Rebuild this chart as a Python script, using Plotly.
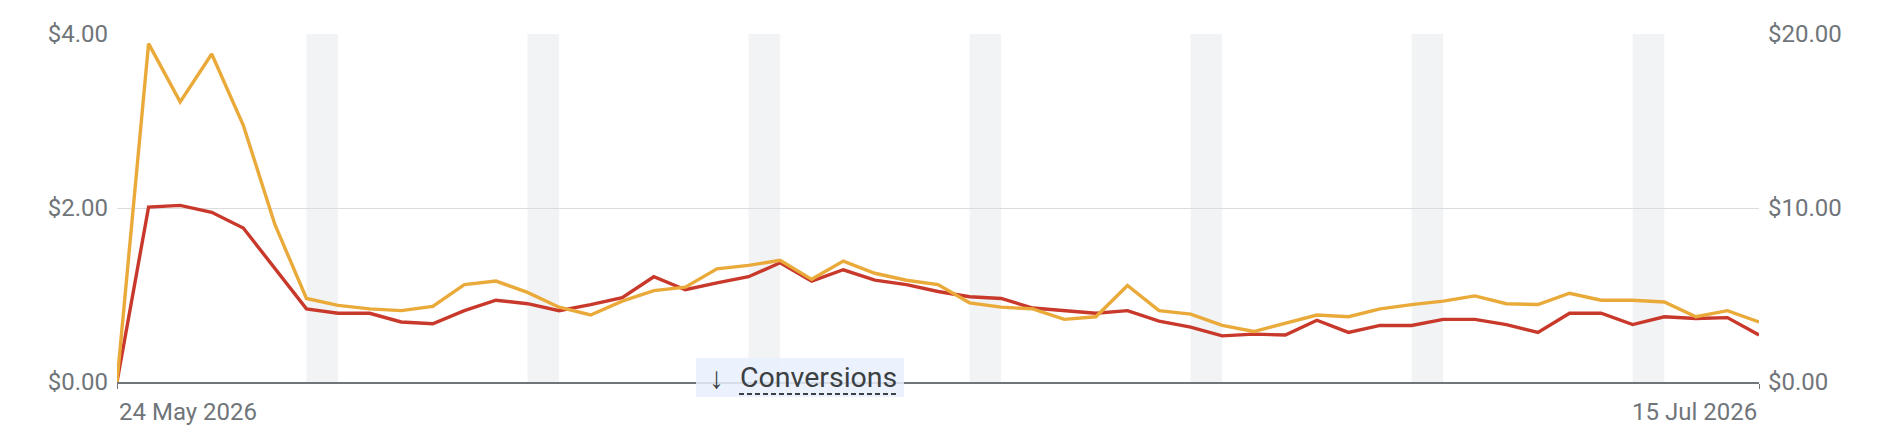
#!/usr/bin/env python3
"""
Daily cost chart, two dollar axes, weekend bands, 24 May - 15 Jul 2026.
"""
import pandas as pd
import plotly.graph_objects as go

# --------------------
# Data
# --------------------
start_date = "2026-05-24"
end_date = "2026-07-15"
dates = pd.date_range(start_date, end_date, freq="D")

# left axis ($0 - $4), red line
left_values = [
    0.00, 2.01, 2.03, 1.95, 1.77, 1.31, 0.84, 0.79, 0.79, 0.69,
    0.67, 0.82, 0.94, 0.90, 0.82, 0.89, 0.97, 1.21, 1.06, 1.14,
    1.21, 1.37, 1.16, 1.29, 1.17, 1.12, 1.04, 0.98, 0.96, 0.85,
    0.82, 0.79, 0.82, 0.70, 0.63, 0.53, 0.55, 0.54, 0.71, 0.57,
    0.65, 0.65, 0.72, 0.72, 0.66, 0.57, 0.79, 0.79, 0.66, 0.75,
    0.73, 0.74, 0.54,
]

# right axis ($0 - $20), yellow line
right_values = [
    0.00, 19.45, 16.10, 18.85, 14.75, 9.05, 4.80, 4.40, 4.20, 4.10,
    4.35, 5.60, 5.80, 5.15, 4.30, 3.85, 4.65, 5.25, 5.45, 6.50,
    6.70, 7.00, 5.90, 6.95, 6.25, 5.85, 5.60, 4.55, 4.30, 4.20,
    3.60, 3.75, 5.55, 4.10, 3.90, 3.25, 2.90, 3.40, 3.85, 3.75,
    4.20, 4.45, 4.65, 4.95, 4.50, 4.45, 5.10, 4.70, 4.70, 4.60,
    3.75, 4.10, 3.45,
]

left_ticks = [0, 2, 4]
left_tick_labels = ["$0.00", "$2.00", "$4.00"]
right_ticks = [0, 10, 20]
right_tick_labels = ["$0.00", "$10.00", "$20.00"]
first_label = "24 May 2026"
last_label = "15 Jul 2026"
metric_label = "Conversions"

# weekend bands (Saturdays)
band_starts = [d for d in dates if d.dayofweek == 5]

RED = "#c8392b"
YELLOW = "#eaaa3a"
GRID = "#dadce0"
AXIS = "#70757a"
FONT = "Roboto"

# --------------------
# Figure
# --------------------
fig = go.Figure()
fig.add_trace(go.Scatter(
    x=dates, y=left_values, mode="lines",
    line=dict(color=RED, width=3.4), yaxis="y", showlegend=False,
))
fig.add_trace(go.Scatter(
    x=dates, y=right_values, mode="lines",
    line=dict(color=YELLOW, width=3.4), yaxis="y2", showlegend=False,
))

for d in band_starts:
    fig.add_vrect(x0=d, x1=d + pd.Timedelta(days=1), fillcolor="#f1f3f4",
                  opacity=1, layer="below", line_width=0)

# page body has an 8px margin, so the figure is sized to fit inside it
fig.update_layout(
    width=1864,
    height=426,
    margin=dict(l=109, r=113, t=26, b=52),
    paper_bgcolor="white",
    plot_bgcolor="white",
    font=dict(family=FONT, color=AXIS, size=24),
    xaxis=dict(
        range=[dates[0], dates[-1]],
        showgrid=False,
        zeroline=False,
        showline=True,
        linecolor=AXIS,
        linewidth=2,
        ticks="outside",
        ticklen=5,
        tickcolor=AXIS,
        tickvals=[dates[0], dates[-1]],
        showticklabels=False,
    ),
    yaxis=dict(
        range=[0, 4],
        tickvals=left_ticks,
        ticktext=left_tick_labels,
        showgrid=True,
        gridcolor=GRID,
        gridwidth=1,
        zeroline=False,
        ticks="",
        ticklabelstandoff=8,
    ),
    yaxis2=dict(
        range=[0, 20],
        tickvals=right_ticks,
        ticktext=right_tick_labels,
        overlaying="y",
        side="right",
        showgrid=False,
        zeroline=False,
        ticks="",
        ticklabelstandoff=8,
    ),
)

# date labels under the ends of the axis
fig.add_annotation(x=dates[0], xref="x", y=-0.04, yref="paper", text=first_label,
                   showarrow=False, xanchor="left", yanchor="top",
                   font=dict(family=FONT, size=24, color=AXIS))
fig.add_annotation(x=dates[-1], xref="x", y=-0.04, yref="paper", text=last_label,
                   showarrow=False, xanchor="right", yanchor="top",
                   font=dict(family=FONT, size=24, color=AXIS))

# metric chip sitting on the axis
fig.add_shape(type="rect", xref="paper", yref="paper",
              x0=0.3526, x1=0.4793, y0=-0.043, y1=0.069,
              fillcolor="rgba(232,240,253,0.85)", line_width=0, layer="above")
fig.add_annotation(x=0.3650, xref="paper", y=0.012, yref="paper", text="↓",
                   showarrow=False, xanchor="center", yanchor="middle",
                   font=dict(family=FONT, size=30, color="#3c4043"))
fig.add_annotation(x=0.3782, xref="paper", y=0.014, yref="paper", text=metric_label,
                   showarrow=False, xanchor="left", yanchor="middle",
                   font=dict(family=FONT, size=28.5, color="#3c4043"))
fig.add_shape(type="line", xref="paper", yref="paper",
              x0=0.3788, x1=0.4744, y0=-0.0345, y1=-0.0345,
              line=dict(color="#3c4043", width=2, dash="5px,3px"), layer="above")

fig.write_html("out.html")
